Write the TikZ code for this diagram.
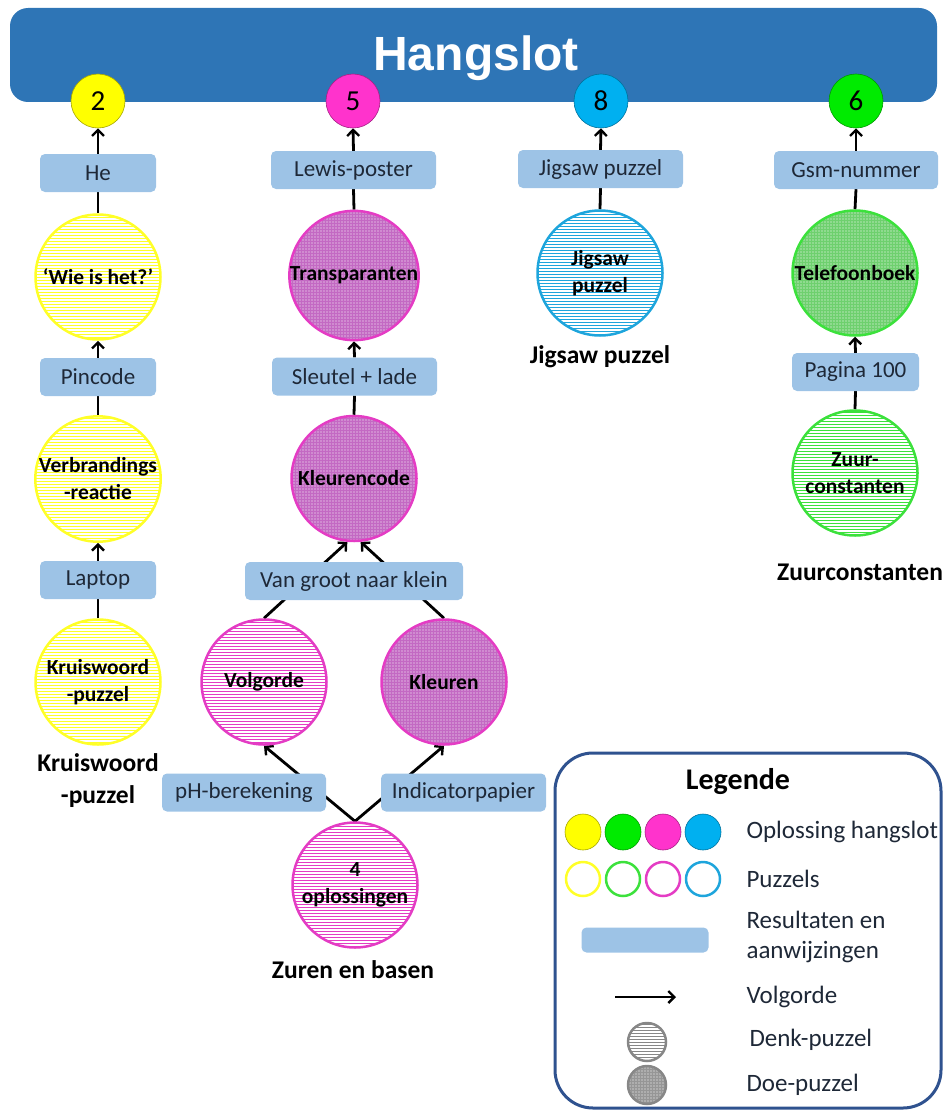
\documentclass[tikz,border=0pt]{standalone}
\usepackage{fontspec}
\setmainfont{Carlito}
\newfontfamily\titlefont{Liberation Sans}
\usetikzlibrary{arrows.meta,patterns,patterns.meta}
\definecolor{bannerblue}{RGB}{46,117,182}
\definecolor{boxblue}{RGB}{157,195,230}
\definecolor{boxtext}{RGB}{30,40,55}
\definecolor{legblue}{RGB}{47,82,143}
\definecolor{cyel}{RGB}{255,255,0}
\definecolor{cgrn}{RGB}{0,235,0}
\definecolor{cmag}{RGB}{255,51,204}
\definecolor{cblu}{RGB}{0,176,240}
\definecolor{pyel}{RGB}{255,255,40}
\definecolor{pgrn}{RGB}{60,225,60}
\definecolor{pmag}{RGB}{228,60,196}
\definecolor{pblu}{RGB}{30,165,220}
\definecolor{doemag}{RGB}{195,105,195}
\definecolor{doegrn}{RGB}{110,208,110}
\definecolor{doegray}{RGB}{150,150,150}
\definecolor{denkgray}{RGB}{135,135,135}
\pgfdeclarepatternformonly{denklines}{\pgfpoint{-1pt}{-1pt}}{\pgfpoint{101pt}{4pt}}{\pgfpoint{100pt}{3pt}}{%
  \pgfsetlinewidth{1.1pt}\pgfpathmoveto{\pgfpoint{-1pt}{1.5pt}}\pgfpathlineto{\pgfpoint{101pt}{1.5pt}}\pgfusepath{stroke}}
\pgfdeclarelayer{bg}
\pgfsetlayers{bg,main}
\begin{document}
\begin{tikzpicture}[x=1pt,y=1pt,
    sol/.style={circle,minimum size=54pt,inner sep=0pt,fill=#1,draw=#1!65!black,line width=0.6pt,font=\fontsize{29}{32}\selectfont},
    res/.style={rectangle,rounded corners=5pt,fill=boxblue,minimum height=38pt,minimum width=#1,inner sep=0pt,text=boxtext,font=\fontsize{23}{26}\selectfont},
    denk/.style={circle,minimum size=125pt,inner sep=0pt,draw=#1,line width=2.5pt,preaction={fill=white},pattern=denklines,pattern color=#1,align=center,font=\bfseries\fontsize{21.5}{27}\selectfont},
    doe/.style 2 args={circle,minimum size=125pt,inner sep=0pt,draw=#1,line width=2.5pt,preaction={fill=#2},pattern={Dots[distance=3pt,radius=0.6pt]},pattern color=white,align=center,font=\bfseries\fontsize{21.5}{27}\selectfont},
    lab/.style={align=center,font=\bfseries\fontsize{25.5}{32}\selectfont},
    legtext/.style={anchor=west,align=left,text=boxtext,font=\fontsize{25}{30}\selectfont},
    flow/.style={line width=2.8pt,-{Straight Barb[length=6pt,width=12pt,line width=2.4pt]}},
    link/.style={line width=2.8pt}]
\useasboundingbox (0,0) rectangle (944,-1113);
\node[fill=bannerblue,rounded corners=18pt,minimum width=927pt,minimum height=94pt,inner sep=0pt] (banner) at (473.5,-55) {};
\node[anchor=base,text=white,font=\titlefont\bfseries\fontsize{48}{56}\selectfont] (title) at (476,-71) {Hangslot};

\node[sol=cyel] (s2) at (98,-101) {2};
\node[sol=cmag] (s5) at (353,-101) {5};
\node[sol=cblu] (s8) at (601,-101) {8};
\node[sol=cgrn] (s6) at (856,-101) {6};

\node[res=116pt] (he) at (98,-173) {He};
\node[res=165pt] (lewis) at (353.5,-170) {Lewis-poster};
\node[res=165pt] (jigbox) at (600.5,-169) {Jigsaw puzzel};
\node[res=164pt] (gsm) at (856,-170) {Gsm-nummer};
\node[res=116pt] (pincode) at (98,-377) {Pincode};
\node[res=165pt] (sleutel) at (354.5,-376.5) {Sleutel + lade};
\node[res=127pt] (pagina) at (855.5,-372) {Pagina 100};
\node[res=116pt] (laptop) at (98,-580) {Laptop};
\node[res=218pt] (vgnk) at (354,-581) {Van groot naar klein};
\node[res=164pt] (ph) at (244,-792.5) {pH-berekening};
\node[res=165pt] (indic) at (463.5,-792.5) {Indicatorpapier};

\node[denk=pyel] (wie) at (98,-277) {‘Wie is het?’};
\node[doe={pmag}{doemag}] (transp) at (354,-275.5) {Transparanten};
\node[denk=pblu] (jigsaw) at (600,-273) {Jigsaw\\puzzel};
\node[doe={pgrn}{doegrn}] (telefoon) at (855,-273) {Telefoonboek};
\node[denk=pyel] (verbr) at (98,-479) {Verbrandings\\-reactie};
\node[doe={pmag}{doemag}] (kleurcode) at (354,-478.5) {Kleurencode};
\node[denk=pgrn] (zuur) at (855,-473) {Zuur-\\constanten};
\node[denk=pyel] (kruis) at (98,-682) {Kruiswoord\\-puzzel};
\node[denk=pmag] (volg) at (264,-682) {Volgorde};
\node[doe={pmag}{doemag}] (kleuren) at (444,-682) {Kleuren};
\node[denk=pmag] (vier) at (355,-885) {4\\oplossingen};

\node[lab] (kruislab) at (98,-781) {Kruiswoord\\-puzzel};
\node[lab] (jiglab) at (600,-357) {Jigsaw puzzel};
\node[lab] (zuurlab) at (860,-572) {Zuurconstanten};
\node[lab] (zurenlab) at (353,-970) {Zuren en basen};

\begin{pgfonlayer}{bg}
\draw[flow] (he) -- (s2);
\draw[link] (wie) -- (he);
\draw[flow] (pincode) -- (wie);
\draw[link] (verbr) -- (pincode);
\draw[flow] (laptop) -- (verbr);
\draw[link] (kruis) -- (laptop);
\draw[flow] (lewis.north) -- (s5.south);
\draw[link] (transp.north) -- (lewis.south);
\draw[flow] (sleutel.north) -- (transp.south);
\draw[link] (kleurcode.north) -- (sleutel.south);
\draw[flow] (volg.north) -- (kleurcode.-96);
\draw[flow] (kleuren.north) -- (kleurcode.-84);
\draw[flow] (vier.north) -- (volg.south);
\draw[flow] (vier.north) -- (kleuren.south);
\draw[flow] (jigbox.north) -- (s8.south);
\draw[link] (jigsaw.north) -- (jigbox.south);
\draw[flow] (gsm.north) -- (s6.south);
\draw[link] (telefoon.north) -- (gsm.south);
\draw[flow] (pagina.north) -- (telefoon.south);
\draw[link] (zuur.north) -- (pagina.south);
\end{pgfonlayer}

\node[draw=legblue,line width=3pt,rounded corners=38pt,minimum width=386pt,minimum height=355pt,inner sep=0pt] (legend) at (748,-930.5) {};
\node[font=\bfseries\fontsize{30}{34}\selectfont] (legtitle) at (738,-782) {Legende};
\foreach \c [count=\i] in {cyel,cgrn,cmag,cblu}
  \node[sol=\c,minimum size=36pt] (lsol\i) at (543+40*\i,-832) {};
\foreach \c [count=\i] in {pyel,pgrn,pmag,pblu}
  \node[circle,draw=\c,line width=2.5pt,minimum size=34pt,inner sep=0pt] (lpuz\i) at (543+40*\i,-879) {};
\node[res=127pt,minimum height=25pt] (lres) at (645,-940) {};
\coordinate (la) at (615,-997);
\coordinate (lb) at (676,-997);
\draw[flow] (la) -- (lb);
\node[denk=denkgray,minimum size=38pt] (ldenk) at (647,-1042) {};
\node[doe={denkgray}{doegray},minimum size=38pt] (ldoe) at (647,-1085) {};
\node[legtext] (t1) at (743,-832) {Oplossing hangslot};
\node[legtext] (t2) at (743,-879) {Puzzels};
\node[legtext] (t3) at (743,-937) {Resultaten en\\aanwijzingen};
\node[legtext] (t4) at (743,-997) {Volgorde};
\node[legtext] (t5) at (746,-1040) {Denk-puzzel};
\node[legtext] (t6) at (743,-1085) {Doe-puzzel};
\end{tikzpicture}
\end{document}
